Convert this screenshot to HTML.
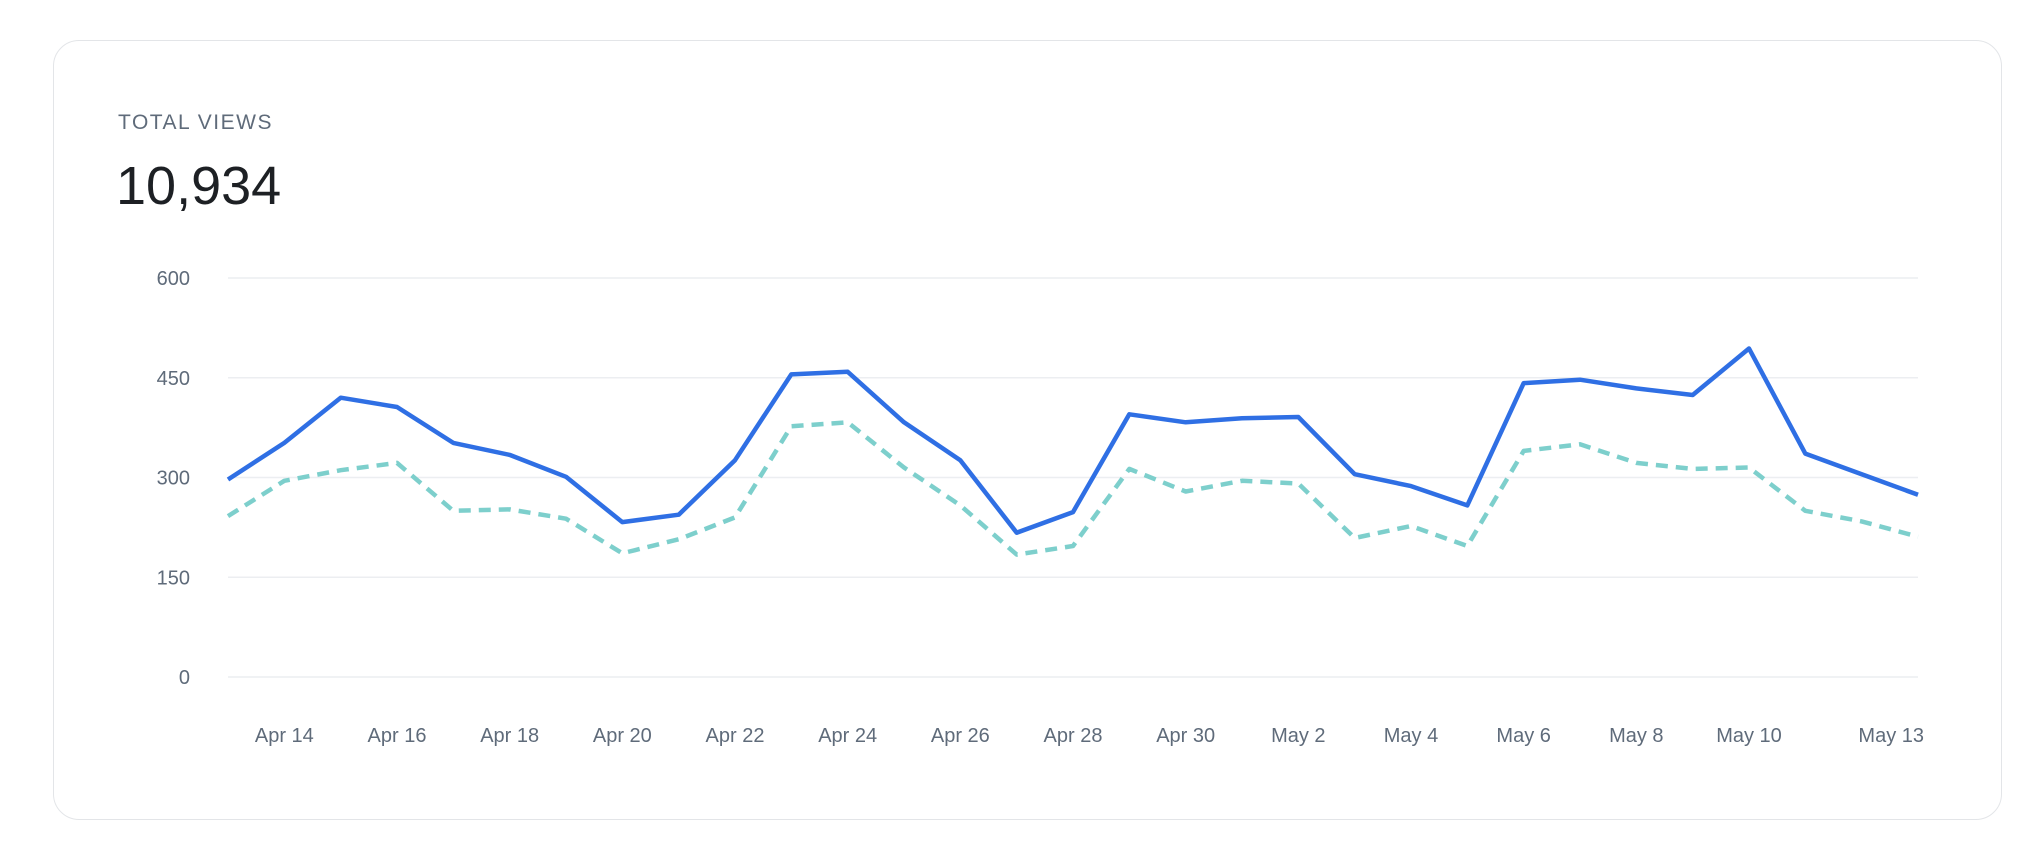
<!DOCTYPE html>
<html><head><meta charset="utf-8"><style>
html,body{margin:0;padding:0;background:#fff;width:2036px;height:852px;overflow:hidden;font-family:"Liberation Sans",sans-serif;}
#card{position:absolute;left:53px;top:40px;width:1949px;height:780px;border:1.5px solid #e3e5e8;border-radius:26px;background:#fff;box-sizing:border-box;}
#title{position:absolute;left:118px;top:111px;font-size:21px;letter-spacing:1.5px;color:#5f6b7a;}
#total{position:absolute;left:116px;top:155px;font-size:54px;color:#1d2024;}
svg{position:absolute;left:0;top:0;}
</style></head><body>
<div id="card"></div>
<div id="title">TOTAL VIEWS</div>
<div id="total">10,934</div>
<svg id="chart" width="2036" height="852"></svg>
<script>
const dates=["Apr 13","Apr 14","Apr 15","Apr 16","Apr 17","Apr 18","Apr 19","Apr 20","Apr 21","Apr 22","Apr 23","Apr 24","Apr 25","Apr 26","Apr 27","Apr 28","Apr 29","Apr 30","May 1","May 2","May 3","May 4","May 5","May 6","May 7","May 8","May 9","May 10","May 11","May 12","May 13"];
const currentViews=[297,352,420,406,352,334,301,233,244,326,455,459,383,326,217,248,395,383,389,391,305,287,258,442,447,434,424,494,336,305,274];
const previousViews=[242,295,311,322,250,252,238,186,207,240,377,383,315,258,184,197,313,279,295,291,209,227,197,340,350,322,313,315,250,234,211];
const yTicks=[0,150,300,450,600];
const xLabels=["Apr 14","Apr 16","Apr 18","Apr 20","Apr 22","Apr 24","Apr 26","Apr 28","Apr 30","May 2","May 4","May 6","May 8","May 10","May 13"];

const svg=document.getElementById('chart');
const NS='http://www.w3.org/2000/svg';
const X0=228,X1=1918,Y0=677,Y1=278;
const x=i=>X0+(X1-X0)*i/(dates.length-1);
const y=v=>Y0-(Y0-Y1)*v/600;
function mk(t,a){const e=document.createElementNS(NS,t);for(const k in a)e.setAttribute(k,a[k]);svg.appendChild(e);return e;}
yTicks.forEach(v=>{
  const g=mk('line',{x1:X0,x2:X1,y1:y(v),y2:y(v),stroke:'#eceef1','stroke-width':1.5});
  
  
  const t=mk('text',{x:190,y:y(v)+7,'text-anchor':'end','font-size':20,fill:'#5f6b7a','font-family':'Liberation Sans, sans-serif'});
  t.textContent=v;
  
  
});
xLabels.forEach(l=>{
  const i=dates.indexOf(l);
  const last=i===dates.length-1;
  const t=mk('text',{x:last?x(i)+6:x(i),y:742,'text-anchor':last?'end':'middle','font-size':20,fill:'#5f6b7a','font-family':'Liberation Sans, sans-serif'});
  t.textContent=l;
  
  
});
const pts=a=>a.map((v,i)=>x(i).toFixed(1)+','+y(v).toFixed(1)).join(' ');
const p2=mk('polyline',{points:pts(previousViews),fill:'none',stroke:'#7dcfcc','stroke-width':4.5,'stroke-dasharray':'12 8','stroke-linejoin':'round'});


const p1=mk('polyline',{points:pts(currentViews),fill:'none',stroke:'#2f6fe4','stroke-width':4.5,'stroke-linejoin':'round'});


</script>
</body></html>
